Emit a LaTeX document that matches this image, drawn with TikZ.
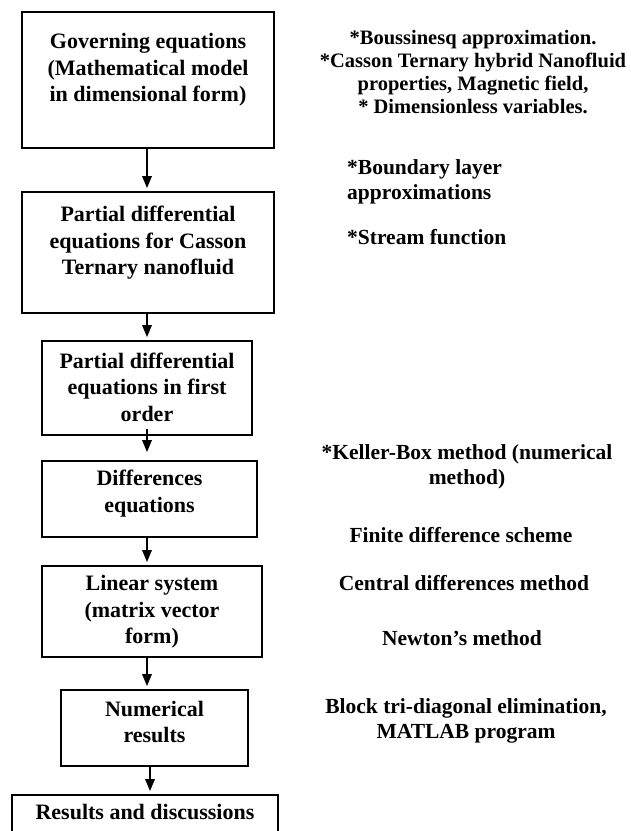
\documentclass[tikz,border=0pt]{standalone}
\usepackage{fontspec}
\setmainfont{Liberation Serif}
\usetikzlibrary{arrows.meta}
\tikzset{
  box/.style={draw=black, line width=1.8pt, inner sep=0pt},
  boxtext/.style={align=center, inner sep=0pt, font=\bfseries\fontsize{22}{26.5}\selectfont},
  sidetext/.style={align=center, inner sep=0pt, font=\bfseries\fontsize{21.5}{25}\selectfont},
  toptext/.style={align=center, inner sep=0pt, font=\bfseries\fontsize{20.5}{23}\selectfont},
  arr/.style={line width=1.6pt, -{Triangle[length=12pt,width=9.5pt]}, shorten >=3pt}
}
\begin{document}
\begin{tikzpicture}[x=1pt,y=-1pt]
\useasboundingbox (0,0) rectangle (631,831);
\coordinate (col) at (147,0);
% boxes
\node[box, minimum width=252pt, minimum height=136pt] (b1) at (148,80) {};
\node[box, minimum width=252pt, minimum height=121pt] (b2) at (148,252.5) {};
\node[box, minimum width=210pt, minimum height=94pt] (b3) at (147,388) {};
\node[box, minimum width=215pt, minimum height=76pt] (b4) at (149.5,499) {};
\node[box, minimum width=220pt, minimum height=91pt] (b5) at (152,611.5) {};
\node[box, minimum width=187pt, minimum height=76pt] (b6) at (154.5,728) {};
\node[box, minimum width=266pt, minimum height=50pt] (b7) at (145,820) {};
% box texts
\node[boxtext] (t1) at (148,70) {Governing equations\\(Mathematical model\\in dimensional form)};
\node[boxtext] (t2) at (148,243) {Partial differential\\equations for Casson\\Ternary nanofluid};
\node[boxtext] (t3) at (147,387) {Partial differential\\equations in first\\order};
\node[boxtext] (t4) at (149.5,493.5) {Differences\\equations};
\node[boxtext] (t5) at (152,612) {Linear system\\(matrix vector\\form)};
\node[boxtext] (t6) at (154.5,722) {Numerical\\results};
\node[boxtext] (t7) at (145,812) {Results and discussions};
% arrows
\draw[arr] (b1.south -| col) -- (b2.north -| col);
\draw[arr] (b2.south -| col) -- (b3.north -| col);
\draw[arr, shorten <=-7pt, shorten >=8pt] (b3.south -| col) -- (b4.north -| col);
\draw[arr] (b4.south -| col) -- (b5.north -| col);
\draw[arr] (b5.south -| col) -- (b6.north -| col);
\coordinate (col2) at (150,0);
\draw[arr] (b6.south -| col2) -- (b7.north -| col2);
% side texts
\node[toptext] (s1) at (473,72) {*Boussinesq approximation.\\*Casson Ternary hybrid Nanofluid\\properties, Magnetic field,\\* Dimensionless variables.};
\node[sidetext, align=left, anchor=west] (s2) at (347,181.5) {*Boundary layer\\approximations};
\node[sidetext, anchor=west] (s3) at (347,237) {*Stream function};
\node[sidetext] (s4) at (467,466.5) {*Keller-Box method (numerical\\method)};
\node[sidetext] (s5) at (461,535) {Finite difference scheme};
\node[sidetext] (s6) at (464,583) {Central differences method};
\node[sidetext] (s7) at (462,638) {Newton’s method};
\node[sidetext] (s8) at (466,720.5) {Block tri-diagonal elimination,\\MATLAB program};
\end{tikzpicture}
\end{document}
